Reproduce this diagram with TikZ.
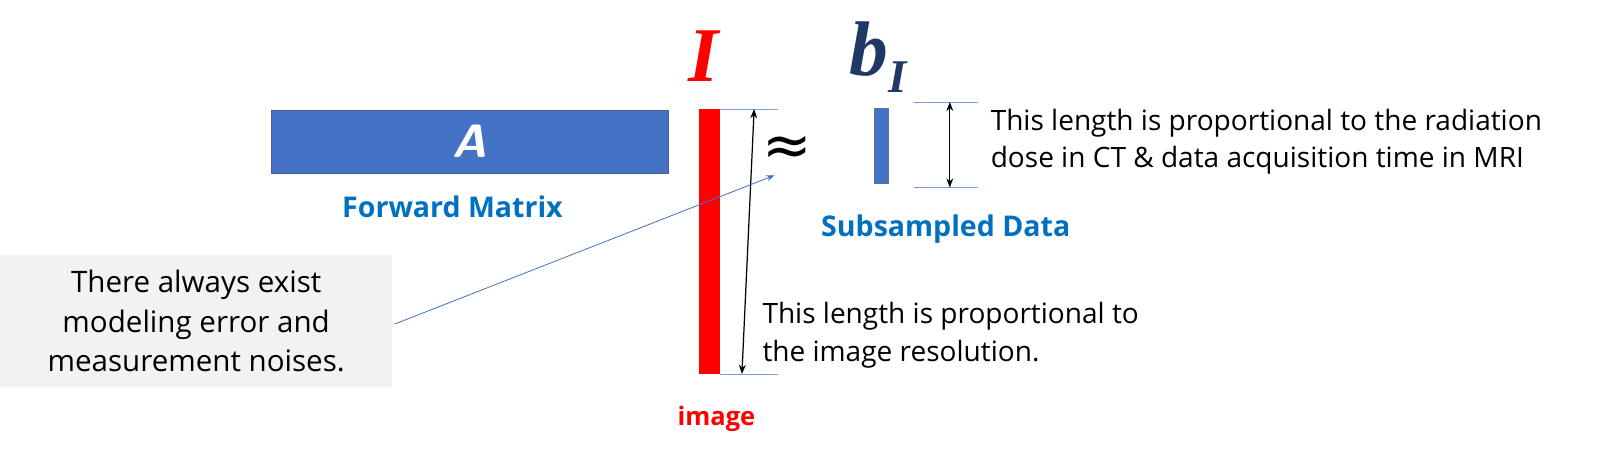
\documentclass[tikz,border=0pt]{standalone}
\usepackage{fontspec}
\setmainfont{Open Sans}
\newfontfamily\serifb{Liberation Serif}
\newfontfamily\dejav{DejaVu Sans}
\usetikzlibrary{arrows.meta}
\definecolor{mblue}{HTML}{4472C4}
\definecolor{tblue}{HTML}{0070C0}
\definecolor{navy}{HTML}{1F3864}
\definecolor{lgray}{HTML}{F2F2F2}
\tikzset{lbl/.style={font=\fontsize{28}{34}\selectfont\bfseries,text=tblue},
 note/.style={font=\fontsize{27.5}{37}\selectfont,align=left,anchor=west,inner sep=0},
 guide/.style={mblue!70,line width=0.8pt},
 dim/.style={{Stealth[length=9pt]}-{Stealth[length=9pt]},line width=1.2pt}}
\begin{document}
\begin{tikzpicture}[x=1pt,y=-1pt]
\node[draw=navy!80,fill=mblue,minimum width=390pt,minimum height=62pt,inner sep=0] (A) at (461,139) {};
\node[text=white,font=\sffamily\fontsize{46}{46}\selectfont\bfseries\itshape] at (A) {A};
\node[lbl] (fm) at (444,203) {Forward Matrix};
\node[fill=red,minimum width=20pt,minimum height=260pt,inner sep=0] (I) at (696,237) {};
\node[text=red,font=\serifb\fontsize{76}{76}\selectfont\bfseries\itshape] (Il) at (690,55) {I};
\node[text=red,font=\fontsize{25}{30}\selectfont\bfseries] (im) at (703,411) {image};
\coordinate (t1) at (706,107); \coordinate (t2) at (763,107);
\coordinate (b1) at (706,367); \coordinate (b2) at (763,367);
\draw[guide] (t1) -- (t2); \draw[guide] (b1) -- (b2);
\coordinate (d1) at (740,107); \coordinate (d2) at (728,367);
\draw[dim] (d1) -- (d2);
\node[font=\dejav\fontsize{58}{58}\selectfont] (ap) at (772,148) {≈};
\node[fill=mblue,draw=navy!70,minimum width=14pt,minimum height=74pt,inner sep=0] (b) at (865,143) {};
\node[text=navy,font=\serifb\fontsize{76}{76}\selectfont\bfseries\itshape] (bl) at (862,56) {b\raisebox{-16pt}{\fontsize{46}{46}\selectfont I}};
\coordinate (u1) at (897,100); \coordinate (u2) at (960,100);
\coordinate (v1) at (897,184); \coordinate (v2) at (960,184);
\draw[guide] (u1) -- (u2); \draw[guide] (v1) -- (v2);
\coordinate (e1) at (932,100); \coordinate (e2) at (932,184);
\draw[dim] (e1) -- (e2);
\node[note] (n1) at (972,139) {This length is proportional to the radiation\\dose in CT \& data acquisition time in MRI};
\node[lbl] (sd) at (928,225) {Subsampled Data};
\node[note] (n2) at (748,329) {This length is proportional to\\the image resolution.};
\node[fill=lgray,minimum width=385pt,minimum height=130pt,inner sep=0,align=center,font=\fontsize{29}{39}\selectfont] (g) at (192.5,315) {There always exist\\modeling error and\\measurement noises.};
\coordinate (tip) at (760,172);
\draw[mblue,line width=0.8pt,-{Stealth[length=8pt]}] (g.east) ++(2,3) -- (tip);
\pgfresetboundingbox
\useasboundingbox (0,0) rectangle (1570,450);
\end{tikzpicture}
\end{document}
